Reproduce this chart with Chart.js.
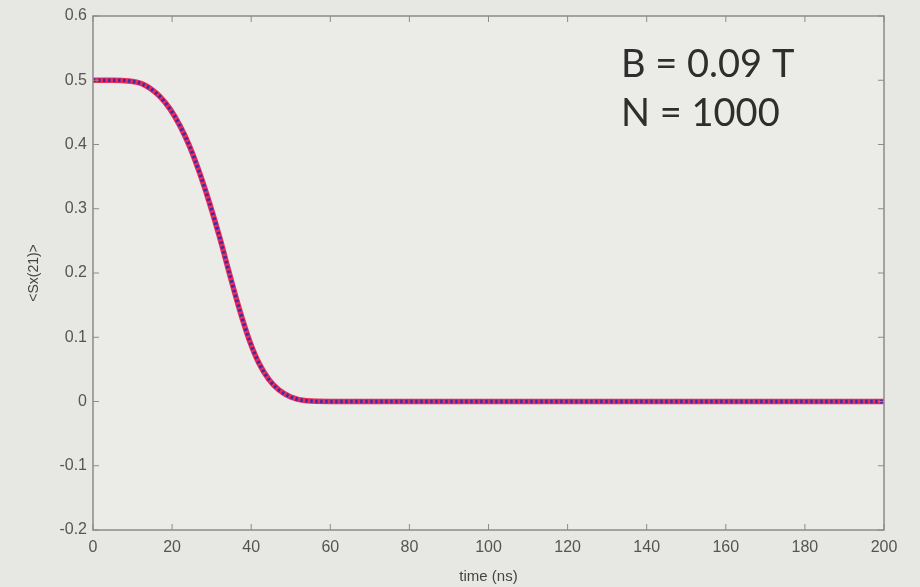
<!DOCTYPE html>
<html>
<head>
<meta charset="utf-8">
<script src="https://cdn.jsdelivr.net/npm/chart.js@4.4.1/dist/chart.umd.min.js"></script>
<style>
  html, body { margin: 0; padding: 0; background: #e7e7e3; }
  #wrap { width: 920px; height: 587px; position: relative; }
</style>
</head>
<body>
<div id="wrap"><canvas id="sxChart"></canvas></div>
<script>
// time axis (ns) and <Sx(21)> readings
const times    = [0, 5, 9, 11, 12.5, 14.5, 17, 19.5, 22, 24.5, 27, 29.5, 32, 34.5, 37, 39.5, 42, 44.5, 47, 50, 54, 60, 200];
const sxSolid  = [0.5, 0.5, 0.499, 0.497, 0.494, 0.487, 0.474, 0.455, 0.429, 0.396, 0.355, 0.308, 0.256, 0.199, 0.144, 0.096, 0.059, 0.034, 0.018, 0.007, 0.001, 0, 0];
const sxDotted = [0.5, 0.5, 0.499, 0.497, 0.494, 0.487, 0.474, 0.455, 0.429, 0.396, 0.355, 0.308, 0.256, 0.199, 0.144, 0.096, 0.059, 0.034, 0.018, 0.007, 0.001, 0, 0];
const xTicks = [0, 20, 40, 60, 80, 100, 120, 140, 160, 180, 200];
const yTicks = [-0.2, -0.1, 0, 0.1, 0.2, 0.3, 0.4, 0.5, 0.6];
const notes = ['B = 0.09 T', 'N = 1000'];

const axisColor = '#8c8c8c';
const tickFont = { family: 'Liberation Sans, Arial, sans-serif', size: 16 };

function pts(xs, ys) {
  return xs.map((x, i) => ({ x: x, y: ys[i] }));
}

// box, inward ticks and the parameter note
const framePlugin = {
  id: 'frame',
  beforeDraw(chart) {
    const { ctx, chartArea: a } = chart;
    ctx.save();
    ctx.fillStyle = '#ebebe7';
    ctx.fillRect(a.left, a.top, a.right - a.left, a.bottom - a.top);
    ctx.restore();
  },
  afterDraw(chart) {
    const { ctx, chartArea: a, scales } = chart;
    ctx.save();
    ctx.strokeStyle = axisColor;
    ctx.lineWidth = 1.5;
    ctx.strokeRect(a.left, a.top, a.right - a.left, a.bottom - a.top);
    ctx.lineWidth = 1;
    const len = 6;
    ctx.beginPath();
    xTicks.forEach(v => {
      const px = scales.x.getPixelForValue(v);
      ctx.moveTo(px, a.bottom); ctx.lineTo(px, a.bottom - len);
      ctx.moveTo(px, a.top); ctx.lineTo(px, a.top + len);
    });
    yTicks.forEach(v => {
      const py = scales.y.getPixelForValue(v);
      ctx.moveTo(a.left, py); ctx.lineTo(a.left + len, py);
      ctx.moveTo(a.right, py); ctx.lineTo(a.right - len, py);
    });
    ctx.stroke();

    ctx.fillStyle = '#2e2e2e';
    ctx.font = '38px Lato, "Open Sans", sans-serif';
    ctx.textBaseline = 'alphabetic';
    ctx.fillText(notes[0], 621, 77);
    ctx.fillText(notes[1], 621, 126);
    ctx.restore();
  }
};

new Chart(document.getElementById('sxChart'), {
  type: 'line',
  data: {
    datasets: [{
      // dotted overlay, listed first so it sits on top
      label: 'dotted',
      data: pts(times, sxDotted),
      borderColor: 'rgb(62, 44, 168)',
      borderWidth: 3.5,
      borderDash: [2.5, 2.5],
      pointRadius: 0,
      cubicInterpolationMode: 'monotone'
    }, {
      label: 'solid',
      data: pts(times, sxSolid),
      borderColor: 'rgb(232, 44, 92)',
      borderWidth: 5.5,
      pointRadius: 0,
      cubicInterpolationMode: 'monotone'
    }]
  },
  options: {
    responsive: true,
    maintainAspectRatio: false,
    animation: false,
    layout: { padding: { top: 16, right: 36, left: 0, bottom: 0 } },
    plugins: { legend: { display: false }, tooltip: { enabled: false } },
    scales: {
      x: {
        type: 'linear',
        min: 0, max: 200,
        afterBuildTicks: s => { s.ticks = xTicks.map(v => ({ value: v })); },
        afterFit: s => { s.height = 57; },
        grid: { display: false, drawTicks: false },
        border: { display: false },
        ticks: { color: '#555', font: tickFont, padding: 8, maxRotation: 0 },
        title: { display: true, text: 'time (ns)', color: '#444', padding: { top: 0, bottom: 1 },
                 font: { family: 'Liberation Sans, Arial, sans-serif', size: 15 } }
      },
      y: {
        min: -0.2, max: 0.6,
        afterBuildTicks: s => { s.ticks = yTicks.map(v => ({ value: v })); },
        afterFit: s => { s.width = 93; },
        grid: { display: false, drawTicks: false },
        border: { display: false },
        ticks: {
          color: '#555', font: tickFont, padding: 6,
          callback: v => Math.abs(v) < 1e-9 ? '0' : String(Math.round(v * 10) / 10)
        },
        title: { display: true, text: '<Sx(21)>', color: '#444', padding: { top: 26, bottom: 0 },
                 font: { family: 'Liberation Sans, Arial, sans-serif', size: 14 } }
      }
    }
  },
  plugins: [framePlugin]
});
</script>
</body>
</html>
